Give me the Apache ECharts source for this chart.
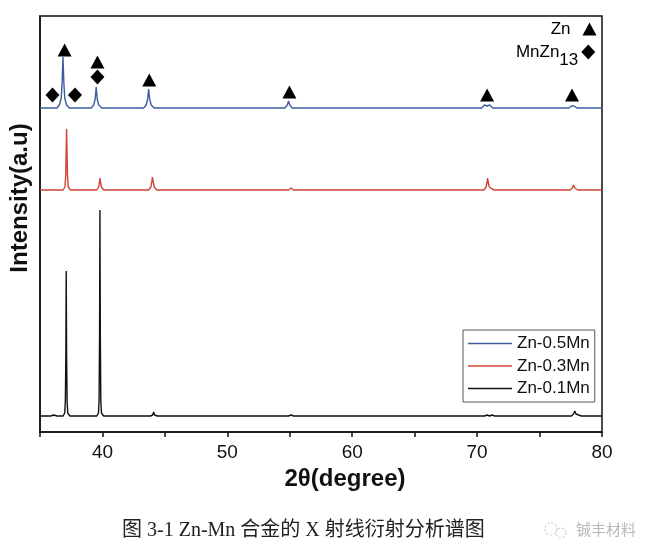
<!DOCTYPE html>
<html>
<head>
<meta charset="utf-8">
<script src="https://cdn.jsdelivr.net/npm/echarts@6/dist/echarts.min.js"></script>
<style>
html,body{margin:0;padding:0;background:#fff;}
#chart{width:649px;height:558px;}
</style>
</head>
<body>
<div id="chart"></div>
<script>
// ---- axis settings ----
const xMin = 35, xMax = 80, xStep = 5;
const xTickLabels = [40, 50, 60, 70, 80];
const yMin = 0, yMax = 416;

// ---- series (2θ, relative intensity above each trace's baseline) ----
const seriesNames = ['Zn-0.5Mn', 'Zn-0.3Mn', 'Zn-0.1Mn'];
const seriesColors = ['#3d5c9e', '#cf4434', '#111111'];
const offsets = [324, 242, 16];

const zn05 = [
  [35,0],[36.35,0],[36.55,3],[36.7,10],[36.77,25],[36.84,51],[36.91,25],[36.98,10],[37.13,3],[37.35,0],
  [39.1,0],[39.3,3],[39.42,9],[39.5,21],[39.58,9],[39.7,3],[39.95,0],
  [43.3,0],[43.5,3],[43.62,9],[43.7,19],[43.78,9],[43.9,3],[44.15,0],
  [54.6,0],[54.8,3],[54.9,7],[55.0,3],[55.2,0],
  [70.35,0],[70.6,3],[70.8,2],[71.0,3],[71.25,0],
  [77.35,0],[77.55,2],[77.75,2],[78.0,0],
  [80,0]
];
const zn03 = [
  [35,0],[36.85,0],[37.0,3],[37.06,15],[37.13,61],[37.2,15],[37.26,3],[37.45,0],
  [39.55,0],[39.7,3],[39.75,7],[39.8,12],[39.86,7],[39.92,3],[40.1,0],
  [43.7,0],[43.88,3],[43.95,8],[44.0,13],[44.07,8],[44.15,3],[44.35,0],
  [54.9,0],[55.1,2],[55.3,0],
  [70.55,0],[70.72,3],[70.78,7],[70.84,12],[70.9,7],[70.98,3],[71.2,1],[71.4,0],
  [77.45,0],[77.62,2],[77.72,5],[77.82,2],[78.05,0],
  [80,0]
];
const zn01 = [
  [35,0],[35.85,0],[36.1,1],[36.35,0],
  [36.85,0],[36.98,3],[37.03,15],[37.07,60],[37.1,145],[37.13,60],[37.17,15],[37.22,3],[37.4,0],
  [39.55,0],[39.68,3],[39.73,15],[39.77,80],[39.8,206],[39.83,80],[39.87,15],[39.92,3],[40.1,0],
  [43.85,0],[44.02,1],[44.1,4],[44.18,1],[44.4,0],
  [54.9,0],[55.1,1],[55.3,0],
  [70.6,0],[70.8,1],[71.0,0],[71.2,1],[71.4,0],
  [77.55,0],[77.72,2],[77.82,5],[77.92,2],[78.12,1],[78.35,0],
  [80,0]
];
const profiles = [zn05, zn03, zn01];

// ---- phase markers (2θ, plot height) ----
const znMarks = [[36.97,382],[39.6,370],[43.75,352],[54.97,340],[70.8,337],[77.6,337]];
const mnzn13Marks = [[36.0,337],[37.8,337],[39.6,355]];
const keyZn = [[79.0,403]];
const keyMnZn13 = [[78.9,380]];

const caption = '图 3-1 Zn-Mn 合金的 X 射线衍射分析谱图';
const watermark = '铖丰材料';

const chart = echarts.init(document.getElementById('chart'), null, {renderer:'canvas'});

const FONT = 'Liberation Sans, Arial, sans-serif';

const lineSeries = seriesNames.map((name, i) => ({
  name: name,
  type: 'line',
  symbol: 'none',
  data: profiles[i].map(p => [p[0], p[1] + offsets[i]]),
  lineStyle: {color: seriesColors[i], width: 1.4},
  itemStyle: {color: seriesColors[i]},
  z: 3 - i,
  animation: false
}));

const markerStyle = {color: '#000', opacity: 1};

const option = {
  backgroundColor: '#ffffff',
  animation: false,
  grid: {left: 38, right: 47, top: 16, bottom: 126, show: true, borderColor: '#111', borderWidth: 1.5, backgroundColor: 'transparent'},
  legend: {
    data: seriesNames,
    orient: 'vertical',
    left: 463, top: 330,
    icon: 'rect',
    itemWidth: 44, itemHeight: 1.4,
    itemGap: 5.5,
    padding: [5, 5, 5, 5],
    borderColor: '#555', borderWidth: 1,
    textStyle: {fontFamily: FONT, fontSize: 17, color: '#111'}
  },
  xAxis: [{
    type: 'value', min: xMin, max: xMax, interval: xStep,
    name: '2θ(degree)', nameLocation: 'middle', nameGap: 35,
    nameTextStyle: {fontFamily: FONT, fontSize: 24, fontWeight: 'bold', color: '#111', padding: [0, 0, 0, 48]},
    axisLine: {lineStyle: {color: '#111', width: 1.5}},
    axisTick: {show: true, inside: false, length: 5, lineStyle: {color: '#111', width: 1.5}},
    axisLabel: {
      margin: 11, fontFamily: FONT, fontSize: 19, color: '#111',
      formatter: v => xTickLabels.indexOf(v) >= 0 ? String(v) : ''
    },
    splitLine: {show: false}
  }],
  yAxis: {
    type: 'value', min: yMin, max: yMax,
    name: 'Intensity(a.u)', nameLocation: 'middle', nameGap: 8,
    nameTextStyle: {fontFamily: FONT, fontSize: 24, fontWeight: 'bold', color: '#111', padding: [0, 0, 0, 52]},
    axisLine: {show: true, lineStyle: {color: '#111', width: 1.5}},
    axisTick: {show: false},
    axisLabel: {show: false},
    splitLine: {show: false}
  },
  series: lineSeries.concat([
    {
      name: 'Zn', type: 'scatter', symbol: 'triangle', symbolSize: [14, 13],
      data: znMarks, itemStyle: markerStyle, z: 5
    },
    {
      name: 'MnZn13', type: 'scatter', symbol: 'diamond', symbolSize: [14, 15],
      data: mnzn13Marks, itemStyle: markerStyle, z: 5
    },
    {
      name: 'keyZn', type: 'scatter', symbol: 'triangle', symbolSize: [14, 13],
      data: keyZn, itemStyle: markerStyle, z: 5,
      label: {show: true, position: 'left', distance: 12, formatter: 'Zn',
        fontFamily: FONT, fontSize: 17, color: '#000', opacity: 1}
    },
    {
      name: 'keyMnZn13', type: 'scatter', symbol: 'diamond', symbolSize: [14, 15],
      data: keyMnZn13, itemStyle: markerStyle, z: 5,
      label: {show: true, position: 'left', distance: 3, offset: [0, 8], opacity: 1,
        formatter: '{a|MnZn}{b|13}',
        rich: {
          a: {fontFamily: FONT, fontSize: 17, color: '#000', lineHeight: 17, verticalAlign: 'top'},
          b: {fontFamily: FONT, fontSize: 17, color: '#000', lineHeight: 32}
        }}
    }
  ]),
  graphic: [
    {type: 'text', left: 122, top: 521, style: {text: caption, fontFamily: "'Liberation Serif', 'Noto Sans CJK SC', serif", fontSize: 20, fill: '#222'}},
    {type: 'circle', shape: {cx: 551, cy: 529, r: 6}, style: {fill: 'none', stroke: '#cfcfcf', lineWidth: 1.2, lineDash: [2, 2]}},
    {type: 'circle', shape: {cx: 561, cy: 533, r: 5}, style: {fill: 'none', stroke: '#cfcfcf', lineWidth: 1.2, lineDash: [2, 2]}},
    {type: 'text', left: 576, top: 522, style: {text: watermark, fontFamily: "'Noto Sans CJK SC', sans-serif", fontSize: 15, fill: '#b8b8b8'}}
  ]
};
chart.setOption(option);
</script>
</body>
</html>
